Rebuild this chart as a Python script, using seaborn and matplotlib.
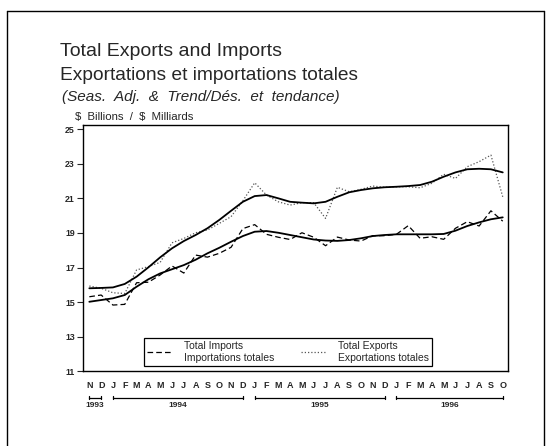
import numpy as np
import pandas as pd
import matplotlib
matplotlib.use("Agg")
import matplotlib.pyplot as plt
import matplotlib.transforms as mtransforms
from matplotlib.lines import Line2D
import seaborn as sns

# ---------------- data ----------------
month_labels = ["N", "D",
                "J", "F", "M", "A", "M", "J", "J", "A", "S", "O", "N", "D",
                "J", "F", "M", "A", "M", "J", "J", "A", "S", "O", "N", "D",
                "J", "F", "M", "A", "M", "J", "J", "A", "S", "O"]
years = ["1993", "1994", "1995", "1996"]
year_spans = [(0, 1), (2, 13), (14, 25), (26, 35)]

imports = [15.31, 15.41, 14.83, 14.87, 16.12, 16.15, 16.57, 17.09, 16.68, 17.72,
           17.60, 17.82, 18.17, 19.25, 19.48, 18.92, 18.75, 18.62, 19.01, 18.75,
           18.26, 18.76, 18.59, 18.53, 18.84, 18.84, 18.92, 19.42, 18.69, 18.78,
           18.63, 19.27, 19.65, 19.40, 20.28, 19.68]
exports = [15.93, 15.80, 15.54, 15.50, 16.86, 17.05, 17.30, 18.43, 18.68, 19.01,
           19.17, 19.55, 19.94, 20.86, 21.90, 21.19, 20.80, 20.61, 20.75, 20.75,
           19.84, 21.64, 21.38, 21.52, 21.71, 21.64, 21.67, 21.67, 21.61, 21.87,
           22.39, 22.15, 22.83, 23.12, 23.50, 21.09]
exports_trend = [15.80, 15.82, 15.85, 16.05, 16.47, 17.01, 17.59, 18.11, 18.53, 18.88,
                 19.27, 19.75, 20.28, 20.80, 21.13, 21.19, 21.00, 20.80, 20.75, 20.71,
                 20.80, 21.09, 21.35, 21.48, 21.58, 21.64, 21.67, 21.71, 21.77, 21.96,
                 22.25, 22.50, 22.68, 22.71, 22.68, 22.50]
imports_trend = [15.02, 15.12, 15.22, 15.41, 15.89, 16.32, 16.66, 16.90, 17.14, 17.45,
                 17.82, 18.14, 18.49, 18.82, 19.07, 19.11, 19.01, 18.88, 18.75, 18.62,
                 18.56, 18.54, 18.59, 18.69, 18.82, 18.88, 18.92, 18.92, 18.92, 18.92,
                 18.94, 19.13, 19.40, 19.61, 19.79, 19.90]
y_ticks = [11, 13, 15, 17, 19, 21, 23, 25]

series_names = ["Imports", "Exports", "Imports trend", "Exports trend"]
series_values = [imports, exports, imports_trend, exports_trend]

# ---------------- style ----------------
sns.set_style("white")
plt.rcParams["font.family"] = ["Liberation Sans", "DejaVu Sans"]

W, H = 549, 446
fig = plt.figure(figsize=(W / 100, H / 100), dpi=100)

ax_l, ax_r, ax_t, ax_b = 83.3, 507.7, 125.0, 371.3
ax = fig.add_axes([ax_l / W, 1 - ax_b / H, (ax_r - ax_l) / W, (ax_b - ax_t) / H])

rows = []
for name, vals in zip(series_names, series_values):
    for i, v in enumerate(vals):
        rows.append({"month": i, "value": v, "series": name})
df = pd.DataFrame(rows)

palette = {"Imports": "black", "Exports": "#555555",
           "Imports trend": "black", "Exports trend": "black"}
dashes = {"Imports": (4.5, 2.5), "Exports": (1, 1.6),
          "Imports trend": "", "Exports trend": ""}
sizes = {"Imports": 0.9, "Exports": 0.9, "Imports trend": 1.3, "Exports trend": 1.3}

sns.lineplot(data=df, x="month", y="value", hue="series", style="series",
             size="series", palette=palette, dashes=dashes, sizes=sizes,
             hue_order=series_names, style_order=series_names, size_order=series_names,
             legend=False, ax=ax)

ax.set_xlim(-0.51, 35.42)
ax.set_ylim(11, 25.24)
ax.set_xlabel("")
ax.set_ylabel("")
ax.set_xticks([])
ax.set_yticks(y_ticks)
ax.set_yticklabels([str(t) for t in y_ticks], fontsize=6.3, fontweight="bold")
ax.tick_params(axis="y", direction="out", length=4, width=0.8, pad=2, left=True)
for s in ax.spines.values():
    s.set_visible(True)
    s.set_color("black")
    s.set_linewidth(1.0)

# month labels & year brackets
ax_h = ax_b - ax_t
trans = mtransforms.blended_transform_factory(ax.transData, ax.transAxes)
for i, lab in enumerate(month_labels):
    ax.text(i, -14.7 / ax_h, lab, transform=trans, ha="center", va="center",
            fontsize=6.5, fontweight="bold")
yb = -26.4 / ax_h
tk = 1.8 / ax_h
for (a, b), yr in zip(year_spans, years):
    ax.plot([a, b], [yb, yb], transform=trans, color="black", lw=0.9, clip_on=False)
    for xx in (a, b):
        ax.plot([xx, xx], [yb - tk, yb + tk], transform=trans, color="black",
                lw=0.9, clip_on=False)
    ax.text((a + b) / 2, -34.6 / ax_h, yr, transform=trans, ha="center",
            va="center", fontsize=6, fontweight="bold")

# legend
handles = [Line2D([], [], color="black", lw=0.9, dashes=(4.5, 2.5)),
           Line2D([], [], color="#555555", lw=0.9, dashes=(1, 1.6))]
labels = ["Total Imports\nImportations totales", "Total Exports\nExportations totales"]
leg = ax.legend(handles, labels, loc="lower left",
                bbox_to_anchor=((144.3 - ax_l) / (ax_r - ax_l), (ax_b - 365.7) / ax_h,
                                (431.7 - 144.3) / (ax_r - ax_l), 0.1),
                mode="expand", ncol=2, fontsize=7.5, frameon=True, fancybox=False,
                edgecolor="black", borderpad=0.3, handlelength=2.4,
                handletextpad=1.1, columnspacing=1.0, borderaxespad=0)
leg.get_frame().set_linewidth(0.9)
leg.get_frame().set_alpha(1)

# titles
fig.text(60 / W, 1 - 56 / H, "Total Exports and Imports", fontsize=14,
         ha="left", va="baseline")
fig.text(60 / W, 1 - 80 / H, "Exportations et importations totales", fontsize=13.8,
         ha="left", va="baseline")
fig.text(62 / W, 1 - 101 / H, "(Seas.  Adj.  &  Trend/Dés.  et  tendance)", fontsize=11,
         style="italic", ha="left", va="baseline")
fig.text(75 / W, 1 - 120 / H, r"\$  Billions  /  \$  Milliards", fontsize=8.2,
         ha="left", va="baseline")

# outer frame (top, left, right)
fig.add_artist(Line2D([6.5 / W, 6.5 / W], [0, 1 - 10.5 / H], color="black", lw=1.0,
                      transform=fig.transFigure))
fig.add_artist(Line2D([6.5 / W, 543.5 / W], [1 - 10.5 / H, 1 - 10.5 / H], color="black",
                      lw=1.0, transform=fig.transFigure))
fig.add_artist(Line2D([543.5 / W, 543.5 / W], [0, 1 - 10.5 / H], color="black", lw=1.0,
                      transform=fig.transFigure))

fig.savefig("out.png", dpi=100, facecolor="white")
